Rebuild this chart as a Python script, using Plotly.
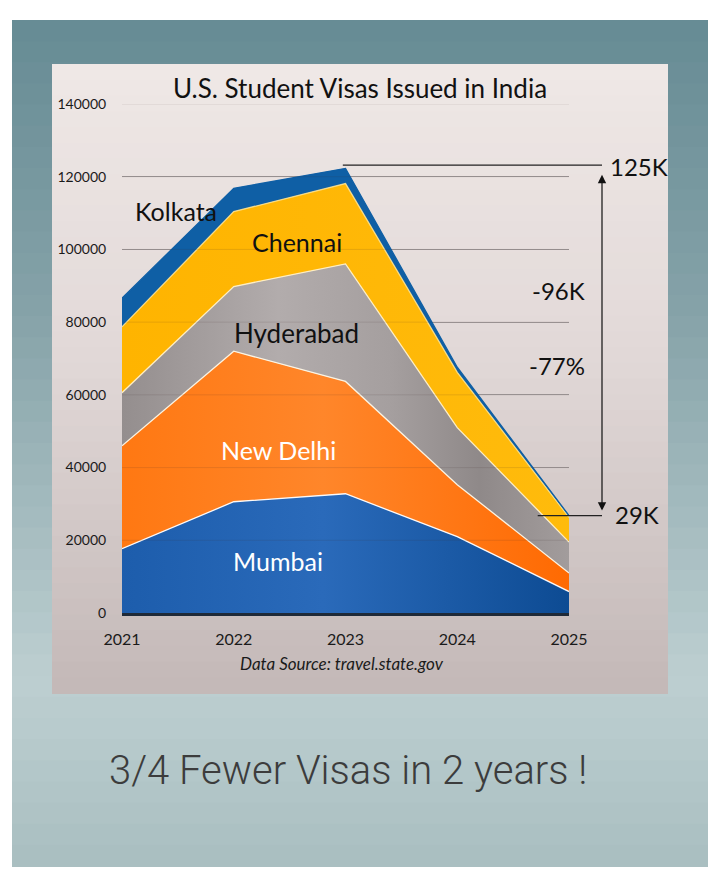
import plotly.graph_objects as go

# --- data ---
years = [2021, 2022, 2023, 2024, 2025]
mumbai = [17700, 30600, 32800, 21000, 5900]
new_delhi = [28300, 41400, 30900, 14300, 5100]
hyderabad = [14600, 17800, 32300, 15700, 8500]
chennai = [18100, 20600, 22100, 15200, 6800]
kolkata = [7900, 6400, 4200, 1400, 500]
y_ticks = [0, 20000, 40000, 60000, 80000, 100000, 120000, 140000]

peak_label = 125000   # printed "125K"
low_label = 29000     # printed "29K"

# --- page geometry ---
W, H = 720, 886
L, R, T, B = 122, 151, 104, 273
PW, PH = W - L - R, H - T - B
FONT = "Lato"


def to_paper(xp, yp):
    return (xp - L) / PW, (H - B - yp) / PH


def hex_rgb(h):
    h = h.lstrip("#")
    return tuple(int(h[i:i + 2], 16) for i in (0, 2, 4))


def mix(stops, t):
    for (t0, c0), (t1, c1) in zip(stops, stops[1:]):
        if t0 <= t <= t1:
            f = (t - t0) / (t1 - t0)
            a, b = hex_rgb(c0), hex_rgb(c1)
            return "rgb(%d,%d,%d)" % tuple(round(a[i] + (b[i] - a[i]) * f) for i in range(3))
    return stops[-1][1]


def bands(x0p, y0p, x1p, y1p, stops, n=40):
    # vertical colour gradient built from thin rectangles (top -> bottom)
    out = []
    step = (y1p - y0p) / n
    for i in range(n):
        xa, ya = to_paper(x0p, y0p + i * step)
        xb, yb = to_paper(x1p, y0p + (i + 1) * step + 1)
        out.append(dict(type="rect", xref="paper", yref="paper", x0=xa, x1=xb, y0=yb, y1=ya,
                        fillcolor=mix(stops, (i + 0.5) / n), line=dict(width=0), layer="below"))
    return out


shapes = []
shapes += bands(12, 20, 708, 866, [(0, "#668b94"), (0.35, "#86a3a9"), (0.78, "#bdcfd1"), (1, "#a9bec0")])
shapes += bands(52, 64, 668, 693, [(0, "#efe8e6"), (0.45, "#e2d9d8"), (1, "#c3b8b7")])

fig = go.Figure()

series = [
    ("Mumbai", mumbai, "#2263b4", [[0, "#1d5dac"], [0.45, "#2a6aba"], [1, "#0d4b93"]], "rgba(255,255,255,0.95)"),
    ("New Delhi", new_delhi, "#ff7a14", [[0, "#ff7812"], [0.45, "#ff862a"], [1, "#ff6a02"]], "rgba(255,248,230,0.95)"),
    ("Hyderabad", hyderabad, "#a39d9d",
     [[0, "#948e8e"], [0.35, "#b2acac"], [0.6, "#a59f9f"], [0.8, "#8f8989"], [1, "#a29c9c"]], "rgba(255,240,200,0.95)"),
    ("Chennai", chennai, "#ffb703", [[0, "#ffb400"], [1, "#ffbb0c"]], "rgba(255,226,140,0.9)"),
    ("Kolkata", kolkata, "#0f5fa5", None, "#0f5fa5"),
]

for name, vals, fill, grad, edge in series:
    tr = dict(x=years, y=vals, name=name, mode="lines", stackgroup="one",
              line=dict(color=edge, width=1.3), fillcolor=fill, hoverinfo="x+y+name")
    if grad:
        tr["fillgradient"] = dict(type="horizontal", colorscale=grad)
    fig.add_trace(go.Scatter(**tr))

totals = [sum(v) for v in zip(mumbai, new_delhi, hyderabad, chennai, kolkata)]
i_peak, i_low = years.index(2023), years.index(2025)

# faint grid lines showing through the areas
for v in y_ticks[1:]:
    shapes.append(dict(type="line", xref="x", yref="y", x0=years[0], x1=years[-1], y0=v, y1=v,
                       line=dict(color="rgba(60,50,50,0.13)", width=1), layer="above"))

# marker lines for the drop
arrow_x = to_paper(602, 0)[0]
yr_paper = lambda yr: (yr - years[0]) / (years[-1] - years[0])
shapes.append(dict(type="line", xref="paper", yref="y", x0=yr_paper(2023) - 0.006, x1=arrow_x,
                   y0=totals[i_peak] + 900, y1=totals[i_peak] + 900, line=dict(color="#222", width=1.2)))
shapes.append(dict(type="line", xref="paper", yref="y", x0=yr_paper(2024.72), x1=arrow_x,
                   y0=totals[i_low], y1=totals[i_low], line=dict(color="#222", width=1.2)))

annotations = [
    dict(x=2021.48, y=110500, text="Kolkata", font=dict(size=25, color="#111")),
    dict(x=2022.57, y=102000, text="Chennai", font=dict(size=25, color="#111")),
    dict(x=2022.56, y=77000, text="Hyderabad", font=dict(size=26, color="#111")),
    dict(x=2022.40, y=44800, text="New Delhi", font=dict(size=25, color="white")),
    dict(x=2022.40, y=14200, text="Mumbai", font=dict(size=25, color="white")),
]
for a in annotations:
    a.update(xref="x", yref="y", showarrow=False, xanchor="center", yanchor="middle",
             font=dict(family=FONT, **a["font"]))

drop = low_label - peak_label
big = dict(family=FONT, size=24, color="#111")
annotations += [
    dict(xref="paper", yref="y", x=to_paper(608, 0)[0], y=totals[i_peak] + 600, xanchor="left",
         yanchor="middle", text="%dK" % (peak_label // 1000), showarrow=False, font=big),
    dict(xref="paper", yref="y", x=to_paper(613, 0)[0], y=totals[i_low] + 300, xanchor="left",
         yanchor="middle", text="%dK" % (low_label // 1000), showarrow=False, font=big),
    dict(xref="paper", yref="y", x=to_paper(558, 0)[0], y=88800, xanchor="center", yanchor="middle",
         text="%dK" % (drop // 1000), showarrow=False, font=big),
    dict(xref="paper", yref="y", x=to_paper(557, 0)[0], y=68200, xanchor="center", yanchor="middle",
         text="%d%%" % round(100 * drop / peak_label), showarrow=False, font=big),
    dict(xref="paper", yref="y", x=arrow_x, y=totals[i_low], axref="pixel", ayref="y", ax=0,
         ay=totals[i_peak], text="", showarrow=True, arrowside="end+start", arrowhead=2,
         startarrowhead=2, arrowsize=1.4, startarrowsize=1.4, arrowwidth=1.2, arrowcolor="#111",
         standoff=5, startstandoff=5),
    dict(xref="paper", yref="paper", x=to_paper(342, 664)[0], y=to_paper(342, 664)[1],
         xanchor="center", yanchor="middle",
         text="<i>Data Source: travel.state.gov</i>", showarrow=False,
         font=dict(family=FONT, size=17, color="#1a1a1a")),
    dict(xref="paper", yref="paper", x=to_paper(348, 770)[0], y=to_paper(348, 770)[1],
         xanchor="center", yanchor="middle",
         text="3/4 Fewer Visas in 2 years !", showarrow=False,
         font=dict(family="Roboto", size=40, weight=300, color="#3c3c3c")),
]

fig.update_layout(
    width=W, height=H,
    margin=dict(l=L, r=R, t=T, b=B),
    paper_bgcolor="white",
    plot_bgcolor="rgba(0,0,0,0)",
    showlegend=False,
    title=dict(text="U.S. Student Visas Issued in India", x=0.5, xref="container", xanchor="center",
               y=1 - 89 / H, yref="container", yanchor="middle",
               font=dict(family=FONT, size=26, color="#111")),
    shapes=shapes,
    annotations=annotations,
    xaxis=dict(range=[years[0], years[-1]], tickvals=years, showgrid=False, zeroline=False,
               showline=True, linecolor="#1f2a38", linewidth=2.5,
               ticks="outside", ticklen=10, tickcolor="rgba(0,0,0,0)",
               tickfont=dict(family=FONT, size=16, color="#1a1a1a")),
    yaxis=dict(range=[0, 140000], tickvals=y_ticks, tickformat="d", showgrid=True,
               gridcolor="#a19b9b", gridwidth=1, zeroline=False,
               ticks="outside", ticklen=12, tickcolor="rgba(0,0,0,0)",
               tickfont=dict(family=FONT, size=14, color="#1a1a1a")),
)

fig.write_html("out.html", config={"displayModeBar": False},
               post_script="document.body.style.margin='0';")
